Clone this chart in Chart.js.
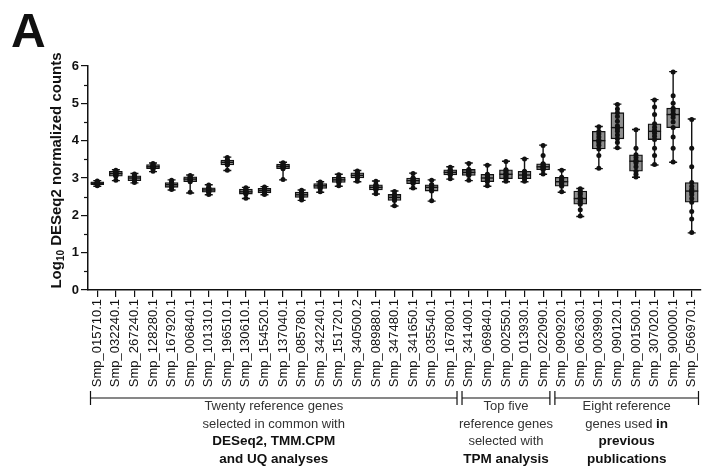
<!DOCTYPE html>
<html>
<head>
<meta charset="utf-8">
<script src="https://cdn.jsdelivr.net/npm/chart.js@4/dist/chart.umd.min.js"></script>
<style>
  html, body { margin: 0; padding: 0; background: #fff; }
  #wrap { width: 705px; height: 468px; position: relative; }
</style>
</head>
<body>
<div id="wrap"><canvas id="c" width="705" height="468"></canvas></div>
<script>
// Gene identifiers on the category axis
const genes = [
  'Smp_015710.1', 'Smp_032240.1', 'Smp_267240.1', 'Smp_128280.1', 'Smp_167920.1',
  'Smp_006840.1', 'Smp_101310.1', 'Smp_196510.1', 'Smp_130610.1', 'Smp_154520.1',
  'Smp_137040.1', 'Smp_085780.1', 'Smp_342240.1', 'Smp_151720.1', 'Smp_340500.2',
  'Smp_089880.1', 'Smp_347480.1', 'Smp_341650.1', 'Smp_035540.1', 'Smp_167800.1',
  'Smp_341400.1', 'Smp_069840.1', 'Smp_002550.1', 'Smp_013930.1', 'Smp_022090.1',
  'Smp_090920.1', 'Smp_062630.1', 'Smp_003990.1', 'Smp_090120.1', 'Smp_001500.1',
  'Smp_307020.1', 'Smp_900000.1', 'Smp_056970.1'
];

// Five-number summaries (log10 DESeq2 normalized counts)
const whiskerLow  = [2.78, 2.93, 2.87, 3.17, 2.68, 2.60, 2.55, 3.20, 2.45, 2.55, 2.95, 2.40, 2.62, 2.78, 2.90, 2.57, 2.25, 2.72, 2.38, 2.97, 2.93, 2.78, 2.90, 2.90, 3.10, 2.62, 1.97, 3.25, 3.80, 3.02, 3.35, 3.42, 1.53];
const quartile1   = [2.82, 3.05, 2.93, 3.25, 2.75, 2.90, 2.62, 3.35, 2.57, 2.60, 3.25, 2.48, 2.72, 2.88, 3.00, 2.68, 2.40, 2.85, 2.65, 3.08, 3.07, 2.90, 2.98, 2.98, 3.22, 2.78, 2.30, 3.78, 4.05, 3.18, 4.03, 4.35, 2.35];
const medians     = [2.86, 3.12, 3.00, 3.30, 2.82, 2.97, 2.68, 3.42, 2.63, 2.66, 3.31, 2.55, 2.79, 2.95, 3.07, 2.75, 2.48, 2.93, 2.75, 3.15, 3.15, 3.00, 3.10, 3.08, 3.30, 2.90, 2.45, 4.00, 4.35, 3.45, 4.25, 4.70, 2.65];
const quartile3   = [2.90, 3.18, 3.06, 3.36, 2.88, 3.03, 2.74, 3.48, 2.70, 2.72, 3.37, 2.62, 2.85, 3.02, 3.14, 2.82, 2.56, 3.00, 2.82, 3.22, 3.23, 3.10, 3.22, 3.18, 3.38, 3.02, 2.65, 4.25, 4.75, 3.62, 4.45, 4.87, 2.88];
const whiskerHigh = [2.93, 3.22, 3.12, 3.40, 2.95, 3.08, 2.82, 3.56, 2.75, 2.77, 3.42, 2.68, 2.90, 3.10, 3.20, 2.92, 2.65, 3.13, 2.95, 3.30, 3.40, 3.35, 3.45, 3.52, 3.88, 3.22, 2.72, 4.38, 4.98, 4.30, 5.10, 5.85, 4.58];

// Individual sample values per gene
const samples = [
  [2.79, 2.82, 2.83, 2.84, 2.85, 2.86, 2.87, 2.88, 2.89, 2.90, 2.92],
  [2.94, 3.05, 3.07, 3.08, 3.10, 3.12, 3.13, 3.14, 3.16, 3.18, 3.21],
  [2.88, 2.93, 2.95, 2.96, 2.99, 3.00, 3.01, 3.03, 3.05, 3.06, 3.11],
  [3.18, 3.25, 3.26, 3.27, 3.29, 3.30, 3.31, 3.33, 3.35, 3.36, 3.39],
  [2.69, 2.75, 2.77, 2.78, 2.81, 2.82, 2.83, 2.86, 2.87, 2.88, 2.94],
  [2.62, 2.90, 2.92, 2.94, 2.96, 2.97, 2.98, 3.00, 3.02, 3.03, 3.07],
  [2.56, 2.62, 2.64, 2.65, 2.67, 2.68, 2.69, 2.72, 2.73, 2.74, 2.81],
  [3.21, 3.35, 3.37, 3.38, 3.41, 3.42, 3.43, 3.45, 3.47, 3.48, 3.55],
  [2.46, 2.57, 2.59, 2.60, 2.62, 2.63, 2.64, 2.67, 2.69, 2.70, 2.74],
  [2.56, 2.60, 2.62, 2.63, 2.65, 2.66, 2.67, 2.69, 2.71, 2.72, 2.76],
  [2.96, 3.25, 3.27, 3.28, 3.30, 3.31, 3.32, 3.34, 3.36, 3.37, 3.41],
  [2.41, 2.48, 2.50, 2.51, 2.54, 2.55, 2.56, 2.59, 2.61, 2.62, 2.67],
  [2.63, 2.72, 2.74, 2.75, 2.78, 2.79, 2.80, 2.82, 2.84, 2.85, 2.89],
  [2.79, 2.88, 2.90, 2.91, 2.94, 2.95, 2.96, 2.99, 3.01, 3.02, 3.09],
  [2.91, 3.00, 3.02, 3.03, 3.06, 3.07, 3.08, 3.11, 3.13, 3.14, 3.19],
  [2.58, 2.68, 2.70, 2.71, 2.74, 2.75, 2.76, 2.79, 2.81, 2.82, 2.91],
  [2.26, 2.40, 2.42, 2.44, 2.47, 2.48, 2.49, 2.52, 2.54, 2.56, 2.64],
  [2.73, 2.85, 2.87, 2.89, 2.92, 2.93, 2.94, 2.97, 2.99, 3.00, 3.12],
  [2.39, 2.65, 2.67, 2.69, 2.73, 2.75, 2.76, 2.79, 2.81, 2.82, 2.94],
  [2.98, 3.08, 3.10, 3.11, 3.14, 3.15, 3.16, 3.19, 3.21, 3.22, 3.29],
  [2.94, 3.07, 3.09, 3.11, 3.14, 3.15, 3.16, 3.19, 3.21, 3.23, 3.39],
  [2.79, 2.90, 2.93, 2.95, 2.99, 3.00, 3.02, 3.06, 3.08, 3.10, 3.34],
  [2.91, 2.98, 3.01, 3.04, 3.09, 3.10, 3.12, 3.17, 3.20, 3.22, 3.44],
  [2.91, 2.98, 3.01, 3.03, 3.07, 3.08, 3.10, 3.14, 3.16, 3.18, 3.51],
  [3.11, 3.22, 3.24, 3.26, 3.29, 3.30, 3.31, 3.35, 3.37, 3.38, 3.60, 3.87],
  [2.63, 2.78, 2.82, 2.84, 2.88, 2.90, 2.92, 2.96, 2.99, 3.02, 3.21],
  [1.98, 2.15, 2.30, 2.35, 2.38, 2.44, 2.45, 2.47, 2.55, 2.60, 2.65, 2.71],
  [3.26, 3.60, 3.78, 3.88, 3.95, 4.00, 4.02, 4.10, 4.18, 4.25, 4.37],
  [3.81, 3.95, 4.05, 4.15, 4.25, 4.32, 4.35, 4.40, 4.52, 4.65, 4.75, 4.85, 4.97],
  [3.03, 3.10, 3.18, 3.30, 3.40, 3.45, 3.47, 3.55, 3.62, 3.80, 4.29],
  [3.36, 3.60, 3.80, 4.03, 4.12, 4.20, 4.25, 4.28, 4.36, 4.45, 4.70, 4.90, 5.09],
  [3.43, 3.80, 4.10, 4.35, 4.50, 4.62, 4.70, 4.72, 4.80, 4.87, 5.00, 5.20, 5.84],
  [1.54, 1.90, 2.10, 2.35, 2.45, 2.55, 2.62, 2.65, 2.70, 2.78, 2.88, 3.30, 3.80, 4.57]
];

// Value axis range
const yMin = 0;
const yMax = 6;

// Gene groups under the axis: index range and caption lines ([text, bold] runs)
const groupFirst = [0, 20, 25];
const groupLast  = [19, 24, 32];
const groupCaptions = [
  [[['Twenty reference genes', false]], [['selected in common with', false]], [['DESeq2, TMM.CPM', true]], [['and UQ analyses', true]]],
  [[['Top five', false]], [['reference genes', false]], [['selected with', false]], [['TPM analysis', true]]],
  [[['Eight reference', false]], [['genes used ', false], ['in', true]], [['previous', true]], [['publications', true]]]
];

const FONT = "'Liberation Sans', Arial, Helvetica, sans-serif";
const INK = '#111';

// Whiskers, medians, minor ticks, axis title, group brackets and panel letter
const boxPlotExtras = {
  id: 'boxPlotExtras',
  beforeDatasetsDraw(chart) {
    const { ctx } = chart;
    const xs = chart.scales.x, ys = chart.scales.y;
    ctx.save();
    ctx.strokeStyle = INK;
    ctx.lineWidth = 1.4;
    genes.forEach((g, i) => {
      const x = xs.getPixelForValue(i);
      const yLo = ys.getPixelForValue(whiskerLow[i]);
      const yHi = ys.getPixelForValue(whiskerHigh[i]);
      const yQ1 = ys.getPixelForValue(quartile1[i]);
      const yQ3 = ys.getPixelForValue(quartile3[i]);
      ctx.beginPath();
      ctx.moveTo(x, yLo); ctx.lineTo(x, yQ1);
      ctx.moveTo(x, yQ3); ctx.lineTo(x, yHi);
      ctx.moveTo(x - 4, yLo); ctx.lineTo(x + 4, yLo);
      ctx.moveTo(x - 4, yHi); ctx.lineTo(x + 4, yHi);
      ctx.stroke();
    });
    ctx.restore();
  },
  afterDatasetDraw(chart, args) {
    if (args.index !== 0) return;
    const { ctx } = chart;
    const xs = chart.scales.x, ys = chart.scales.y;
    ctx.save();
    ctx.strokeStyle = INK;
    ctx.lineWidth = 1.4;
    genes.forEach((g, i) => {
      const x = xs.getPixelForValue(i);
      const y = ys.getPixelForValue(medians[i]);
      ctx.beginPath();
      ctx.moveTo(x - 6.5, y); ctx.lineTo(x + 6.5, y);
      ctx.stroke();
    });
    ctx.restore();
  },
  afterDraw(chart) {
    const { ctx, chartArea } = chart;
    const xs = chart.scales.x, ys = chart.scales.y;
    ctx.save();

    // minor ticks on the value axis
    ctx.strokeStyle = INK;
    ctx.lineWidth = 1.2;
    for (let v = yMin + 0.5; v < yMax; v += 1) {
      const y = Math.round(ys.getPixelForValue(v)) + 0.5;
      ctx.beginPath();
      ctx.moveTo(chartArea.left - 4, y); ctx.lineTo(chartArea.left, y);
      ctx.stroke();
    }

    // value axis title with subscript
    const titleRuns = [['Log', 15, 0], ['10', 10, 3], [' DESeq2 normalized counts', 15, 0]];
    let total = 0;
    titleRuns.forEach(r => { ctx.font = `bold ${r[1]}px ${FONT}`; total += ctx.measureText(r[0]).width; });
    ctx.translate(61, ys.getPixelForValue(yMin + 3.2));
    ctx.rotate(-Math.PI / 2);
    ctx.fillStyle = INK;
    ctx.textBaseline = 'alphabetic';
    ctx.textAlign = 'left';
    let tx = -total / 2;
    titleRuns.forEach(r => {
      ctx.font = `bold ${r[1]}px ${FONT}`;
      ctx.fillText(r[0], tx, r[2]);
      tx += ctx.measureText(r[0]).width;
    });
    ctx.setTransform(1, 0, 0, 1, 0, 0);

    // group brackets and captions
    const step = xs.getPixelForValue(1) - xs.getPixelForValue(0);
    const lineY = chartArea.bottom + 108;
    const gap = 2.5;
    ctx.strokeStyle = INK;
    ctx.lineWidth = 1.2;
    groupFirst.forEach((first, gi) => {
      const x0 = xs.getPixelForValue(first) - step / 2 + gap;
      const x1 = xs.getPixelForValue(groupLast[gi]) + step / 2 - gap;
      ctx.beginPath();
      ctx.moveTo(x0, lineY); ctx.lineTo(x1, lineY);
      ctx.moveTo(x0, lineY - 7); ctx.lineTo(x0, lineY + 7);
      ctx.moveTo(x1, lineY - 7); ctx.lineTo(x1, lineY + 7);
      ctx.stroke();
      const cx = (x0 + x1) / 2;
      groupCaptions[gi].forEach((runs, li) => {
        const y = lineY + 8.5 + li * 17.6;
        let w = 0;
        runs.forEach(r => { ctx.font = `${r[1] ? 'bold 13.5px' : '13px'} ${FONT}`; w += ctx.measureText(r[0]).width; });
        let x = cx - w / 2;
        ctx.textAlign = 'left';
        ctx.textBaseline = 'middle';
        runs.forEach(r => {
          ctx.font = `${r[1] ? 'bold 13.5px' : '13px'} ${FONT}`;
          ctx.fillStyle = r[1] ? INK : '#333';
          ctx.fillText(r[0], x, y);
          x += ctx.measureText(r[0]).width;
        });
      });
    });

    // panel letter
    ctx.fillStyle = INK;
    ctx.font = `bold 48px ${FONT}`;
    ctx.textAlign = 'left';
    ctx.textBaseline = 'alphabetic';
    ctx.fillText('A', 11, 47);
    ctx.restore();
  }
};

new Chart(document.getElementById('c').getContext('2d'), {
  type: 'bar',
  data: {
    labels: genes,
    datasets: [
      {
        label: 'Interquartile range',
        data: genes.map((g, i) => [quartile1[i], quartile3[i]]),
        backgroundColor: '#8f8f8f',
        borderColor: INK,
        borderWidth: 1.3,
        borderSkipped: false,
        barThickness: 13,
        order: 2
      },
      {
        type: 'line',
        label: 'Samples',
        data: samples.flatMap((vals, i) => vals.map(v => ({ x: genes[i], y: v }))),
        showLine: false,
        pointRadius: 2.5,
        pointBackgroundColor: INK,
        pointBorderWidth: 0,
        order: 1
      }
    ]
  },
  options: {
    responsive: false,
    animation: false,
    layout: { padding: { left: 0, right: 1, top: 66, bottom: 68 } },
    plugins: { legend: { display: false }, tooltip: { enabled: false } },
    scales: {
      x: {
        offset: true,
        grid: { offset: false, drawOnChartArea: false, drawTicks: true, tickLength: 7, color: INK, lineWidth: 1.2 },
        border: { color: INK, width: 1.5 },
        ticks: { autoSkip: false, minRotation: 90, maxRotation: 90, padding: 2, color: INK, font: { family: FONT, size: 13 } },
        afterFit(scale) { scale.height = 110; scale.paddingLeft = 0; scale.paddingRight = 0; }
      },
      y: {
        min: yMin,
        max: yMax,
        grid: { drawOnChartArea: false, drawTicks: true, tickLength: 7, color: INK, lineWidth: 1.2 },
        border: { color: INK, width: 1.5 },
        ticks: { stepSize: 1, padding: 2, color: INK, font: { family: FONT, size: 13, weight: 'bold' } },
        afterFit(scale) { scale.width = 88; scale.paddingTop = 0; scale.paddingBottom = 0; }
      }
    }
  },
  plugins: [boxPlotExtras]
});
</script>
</body>
</html>
